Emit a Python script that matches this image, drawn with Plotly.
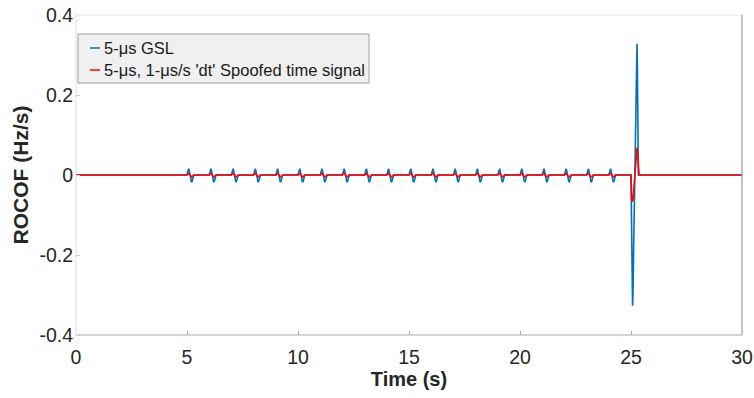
import plotly.graph_objects as go

# ---- data ----
bump_starts = [5, 6, 7, 8, 9, 10, 11, 12, 13, 14, 15, 16, 17, 18, 19, 20, 21, 22, 23, 24]
bump_offsets = [0.0, 0.02, 0.05, 0.08, 0.11, 0.14, 0.17, 0.20, 0.23, 0.26, 0.29, 0.31]
gsl_bump = [0.0, 0.006, 0.014, 0.016, 0.009, -0.002, -0.012, -0.018, -0.016, -0.008, -0.002, 0.0]
spoof_bump = [0.0, 0.002, 0.004, 0.004, 0.002, 0.0, -0.002, -0.005, -0.004, -0.002, 0.0, 0.0]

spike_t_gsl = [25.0, 25.02, 25.04, 25.06, 25.07, 25.09, 25.12, 25.17, 25.21, 25.24, 25.26, 25.27, 25.29, 25.31, 25.33]
spike_gsl = [0.0, -0.08, -0.22, -0.31, -0.327, -0.30, -0.18, 0.0, 0.18, 0.29, 0.325, 0.328, 0.26, 0.10, 0.0]

spike_t_spoof = [25.0, 25.005, 25.03, 25.06, 25.09, 25.13, 25.17, 25.21, 25.25, 25.27, 25.30, 25.36, 25.365]
spike_spoof = [0.0, -0.045, -0.062, -0.067, -0.06, -0.035, 0.0, 0.035, 0.062, 0.068, 0.05, 0.004, 0.0]

t_start, t_end = 0.0, 30.0
x_ticks = [0, 5, 10, 15, 20, 25, 30]
y_ticks = [-0.4, -0.2, 0, 0.2, 0.4]
y_tick_text = ["-0.4", "-0.2", "0", "0.2", "0.4"]

legend_names = ["5-\u03bcs GSL", "5-\u03bcs, 1-\u03bcs/s 'dt' Spoofed time signal"]
colors = ["#0072BD", "#FF0000"]


def build(bump_vals, spike_t, spike_v):
    t = [t_start]
    v = [0.0]
    for s in bump_starts:
        for o, b in zip(bump_offsets, bump_vals):
            t.append(s + o)
            v.append(b)
    t += spike_t
    v += spike_v
    t.append(t_end)
    v.append(0.0)
    return t, v


t_gsl, v_gsl = build(gsl_bump, spike_t_gsl, spike_gsl)
t_sp, v_sp = build(spoof_bump, spike_t_spoof, spike_spoof)

fig = go.Figure()
fig.add_trace(go.Scatter(x=t_gsl, y=v_gsl, mode="lines", name=legend_names[0],
                         line=dict(color=colors[0], width=1.6)))
fig.add_trace(go.Scatter(x=t_sp, y=v_sp, mode="lines", name=legend_names[1],
                         line=dict(color=colors[1], width=1.6)))

W, H = 754, 398
L, R, T, B = 76, 12, 15, 63
pw, ph = W - L - R, H - T - B


def px_x(p):
    return (p - L) / pw


def px_y(p):
    return (H - B - p) / ph


shapes = [
    # box
    dict(type="line", xref="paper", yref="paper", x0=0, x1=1, y0=1, y1=1, line=dict(color="#e3e3e3", width=1)),
    dict(type="line", xref="paper", yref="paper", x0=0, x1=0, y0=0, y1=1, line=dict(color="#dcdcdc", width=1)),
    dict(type="line", xref="paper", yref="paper", x0=1, x1=1, y0=0, y1=1, line=dict(color="#8a8a8a", width=1)),
    dict(type="line", xref="paper", yref="paper", x0=0, x1=1, y0=0, y1=0, line=dict(color="#a8a8a8", width=1)),
    # legend box
    dict(type="rect", xref="paper", yref="paper", x0=px_x(78), x1=px_x(369), y0=px_y(83), y1=px_y(34),
         fillcolor="#f0f0f0", line=dict(color="#a0a0a0", width=1), layer="above"),
]
annotations = []
row_y = [48, 70]
for name, c, ry in zip(legend_names, colors, row_y):
    shapes.append(dict(type="line", xref="paper", yref="paper", x0=px_x(90), x1=px_x(100),
                       y0=px_y(ry), y1=px_y(ry), line=dict(color=c, width=1.5), layer="above"))
    annotations.append(dict(xref="paper", yref="paper", x=px_x(101.5), y=px_y(ry), text=name,
                            showarrow=False, xanchor="left", yanchor="middle",
                            font=dict(family="Arial, Liberation Sans", size=16.5, color="#1a1a1a")))

fig.update_layout(
    width=W, height=H,
    margin=dict(l=L, r=R, t=T, b=B),
    paper_bgcolor="white", plot_bgcolor="white",
    showlegend=False,
    shapes=shapes, annotations=annotations,
    font=dict(family="Arial, Liberation Sans", color="#262626"),
)
fig.update_xaxes(range=[t_start, t_end], tickvals=x_ticks, showgrid=False, zeroline=False,
                 showline=False, ticks="inside", ticklen=4, tickcolor="#a8a8a8", automargin=False,
                 tickfont=dict(size=19.5, color="#262626"), ticklabelstandoff=8,
                 title=dict(text="<b>Time (s)</b>", font=dict(size=20, color="#262626"), standoff=4))
fig.update_yaxes(range=[-0.4, 0.4], tickvals=y_ticks, ticktext=y_tick_text, showgrid=False,
                 zeroline=False, showline=False, ticks="inside", ticklen=4, tickcolor="#c8c8c8",
                 automargin=False,
                 tickfont=dict(size=19.5, color="#262626"), ticklabelstandoff=2,
                 title=dict(text="<b>ROCOF (Hz/s)</b>", font=dict(size=21, color="#262626"), standoff=5))

fig.write_html("out.html")
